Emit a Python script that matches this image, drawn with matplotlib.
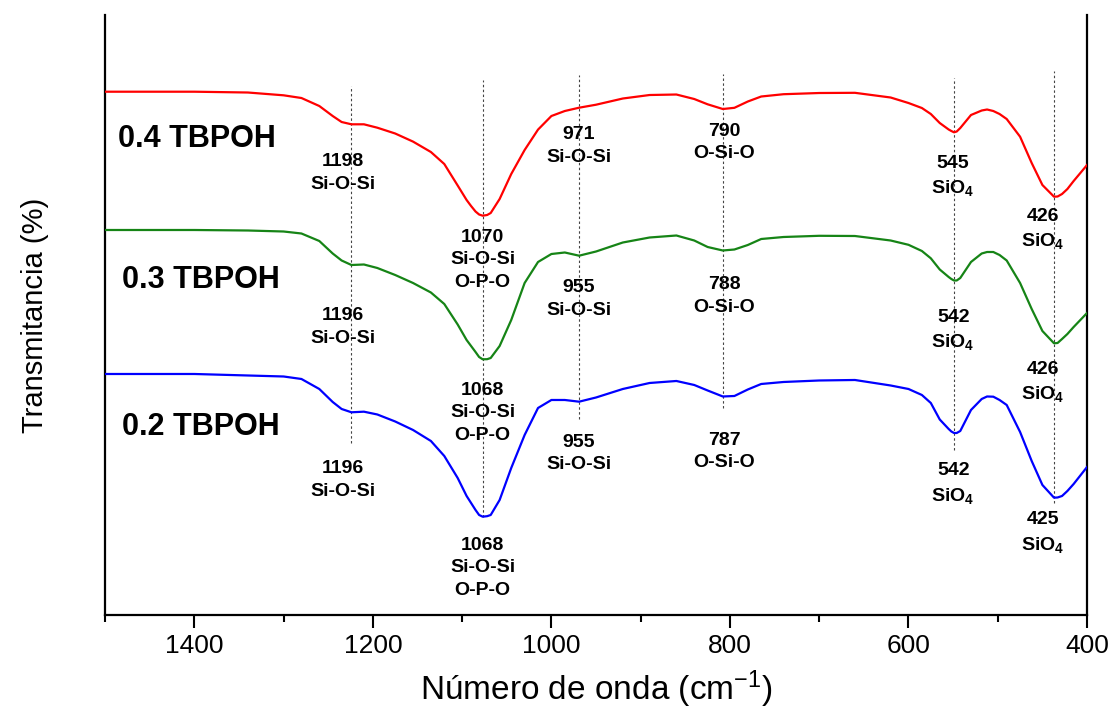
import numpy as np
import matplotlib
matplotlib.use("Agg")
import matplotlib.pyplot as plt

plt.rcParams['font.family'] = ['Liberation Sans', 'DejaVu Sans']
plt.rcParams['mathtext.fontset'] = 'custom'
plt.rcParams['mathtext.rm'] = 'Liberation Sans'
plt.rcParams['mathtext.bf'] = 'Liberation Sans:bold'
plt.rcParams['mathtext.it'] = 'Liberation Sans:italic'

# ---------------- data ----------------
wavenumber = [1500, 1400, 1340, 1300, 1280, 1260, 1245, 1235, 1224, 1210, 1195, 1175,
              1155, 1135, 1120, 1105, 1095, 1090, 1085, 1081, 1077, 1072, 1068, 1058,
              1045, 1030, 1015,
              1000, 985, 969, 950, 920, 890, 860, 840, 825, 808, 795, 780, 765, 740,
              700, 660, 620, 600, 585, 575, 565, 555, 552, 549, 546, 542, 530, 518, 512,
              505, 498, 490,
              475, 462, 450, 437, 433, 428, 422, 415, 400]

t_04 = [523.3, 523.3, 522.5, 519.7, 517, 509, 499, 493, 490.7, 490.7, 487.3, 481.5,
        473.4, 463, 451, 429.5, 415, 409, 403.5, 400.5, 399.3, 400, 402, 416,
        441, 465, 485.4,
        499, 504, 507.3, 510.3, 516.5, 520, 520.5, 516, 510.7, 506, 507.2, 513.5, 518.5, 520.8,
        522, 522.2, 517.5, 512, 507, 501, 492, 485.5, 484, 482.7, 483.5, 487, 500, 504.5, 505.5,
        504, 501, 496,
        478.3, 452, 430, 418.3, 418.5, 421, 426, 434, 450]

t_03 = [385, 385, 384.5, 383.5, 381.5, 374, 361.5, 354.5, 350, 350.5, 347, 340,
        332, 322.5, 311, 290.5, 275, 269, 263, 258, 255.7, 255.8, 257, 269,
        295, 332, 353,
        361, 362.5, 359.3, 363.5, 372.5, 377.5, 379.5, 374.5, 368, 364.5, 365.5, 370, 376, 378,
        379.2, 379, 374.5, 370.2, 364, 356.7, 345.5, 338, 336, 334.5, 334.5, 337, 353, 361.5, 363,
        363, 360, 354.5,
        332, 306, 284, 271.7, 272, 276, 281, 288, 302]

t_02 = [241, 241, 239.5, 238.5, 236, 226, 213, 206, 202.7, 203.3, 200.5, 193.5,
        185, 174, 159, 137, 119, 112, 105, 100, 98.3, 98.8, 100, 115,
        147, 180, 207,
        215, 215, 213.3, 217.5, 226, 232, 234, 230, 224.5, 218.5, 219, 225.5, 231, 233,
        234.5, 235, 229.5, 226, 220, 212, 195.5, 186, 183.5, 182, 182, 184, 205, 216, 218.5,
        218.3, 215, 210,
        183, 154, 130, 117.3, 117.5, 119, 124, 131, 148]

series_names = ['0.4 TBPOH', '0.3 TBPOH', '0.2 TBPOH']
series_colors = ['#ff0000', '#168416', '#0000ff']
series_values = [t_04, t_03, t_02]

# reference (dashed) lines: position, top, bottom
ref_wn = [1224, 1077, 969, 808, 549, 437]
ref_top = [529, 535, 540, 541, 537, 544]
ref_bottom = [172, 98, 196, 207, 165, 112]

# band labels
band_x = [1234, 1077, 969, 806.5, 550, 449.3]
peaks_04 = ['1198\nSi-O-Si', '1070\nSi-O-Si\nO-P-O', '971\nSi-O-Si', '790\nO-Si-O',
            '545\nSiO$_\\mathbf{4}$', '426\nSiO$_\\mathbf{4}$']
peaks_03 = ['1196\nSi-O-Si', '1068\nSi-O-Si\nO-P-O', '955\nSi-O-Si', '788\nO-Si-O',
            '542\nSiO$_\\mathbf{4}$', '426\nSiO$_\\mathbf{4}$']
peaks_02 = ['1196\nSi-O-Si', '1068\nSi-O-Si\nO-P-O', '955\nSi-O-Si', '787\nO-Si-O',
            '542\nSiO$_\\mathbf{4}$', '425\nSiO$_\\mathbf{4}$']
label_y_04 = [442, 355.3, 469, 472.7, 438.5, 385.3]
label_y_03 = [288, 202, 316, 319, 284.6, 232.6]
label_y_02 = [135, 47.3, 161.6, 163.5, 131, 82]

name_x = [1485, 1481, 1481]
name_y = [476, 335, 188]

# ---------------- figure ----------------
fig = plt.figure(figsize=(11.14, 7.15), dpi=100)
ax = fig.add_axes([0.0943, 0.1399, 0.8815, 0.8391])

for vals, col in zip(series_values, series_colors):
    ax.plot(wavenumber, vals, color=col, lw=1.6, solid_joinstyle='round', zorder=3)

for x, y0, y1 in zip(ref_wn, ref_bottom, ref_top):
    ax.plot([x, x], [y0, y1], color='#444444', lw=0.8, ls=(0, (2.2, 2.2)), zorder=2)

for peaks, ys in zip([peaks_04, peaks_03, peaks_02], [label_y_04, label_y_03, label_y_02]):
    for x, y, txt in zip(band_x, ys, peaks):
        ax.text(x, y, txt, ha='center', va='center', fontsize=14, fontweight='bold',
                linespacing=1.42, zorder=4)

for nm, x, y in zip(series_names, name_x, name_y):
    ax.text(x, y, nm, ha='left', va='center', fontsize=22, fontweight='bold')

ax.set_xlim(1500, 400)
ax.set_ylim(0, 600)
ax.set_xticks([1400, 1200, 1000, 800, 600, 400])
ax.set_xticks([1500, 1300, 1100, 900, 700, 500], minor=True)
ax.set_yticks([])
ax.tick_params(axis='x', which='major', direction='out', length=9, width=1.5,
               labelsize=19, pad=5)
ax.tick_params(axis='x', which='minor', direction='out', length=5, width=1.5)
ax.spines['top'].set_visible(False)
for s in ['left', 'right', 'bottom']:
    ax.spines[s].set_linewidth(1.6)

ax.set_xlabel('Número de onda (cm$^{-1}$)', fontsize=24, labelpad=7)
ax.set_ylabel('Transmitancia (%)', fontsize=21, labelpad=40)

fig.savefig('out.png', dpi=100)
